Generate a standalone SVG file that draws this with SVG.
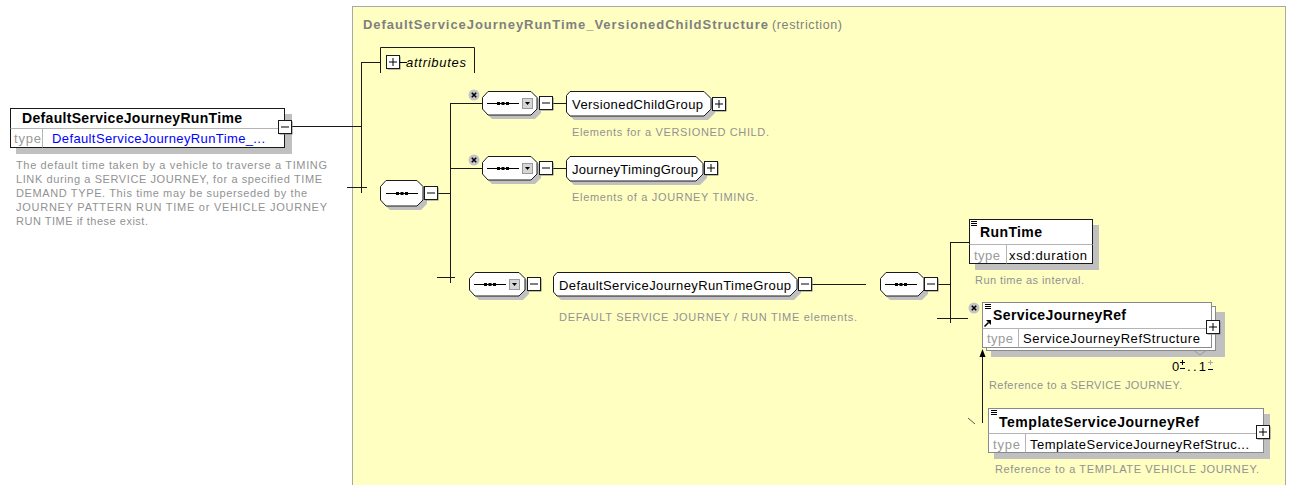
<svg xmlns="http://www.w3.org/2000/svg" width="1294" height="485" viewBox="0 0 1294 485">
<defs>
<style>
.ln{stroke:#1a1a1a;stroke-width:1;fill:none}
.sh{fill:#c0c0c0}
.box{fill:#fff;stroke:#1a1a1a;stroke-width:1}
.obox{fill:#fff;stroke:#8a8a8a;stroke-width:1}
.dv{stroke:#b4b4b4;stroke-width:1}
.comp{fill:#fff;stroke:#1a1a1a;stroke-width:1}
.f{font-family:"Liberation Sans",Arial,sans-serif}
.nm{font-size:13px;fill:#000}
.bn{font-size:14px;font-weight:bold;fill:#000}
.ty{font-size:13px;fill:#9a9a9a}
.ds{font-size:11px;fill:#929292}
</style>
<g id="bm"><rect x="1.5" y="1.5" width="13" height="13" fill="#7a7a7a"/><rect x="0.5" y="0.5" width="13" height="13" fill="#fff" stroke="#1a1a1a"/><line x1="3" y1="7" x2="11" y2="7" stroke="#000"/></g>
<g id="bp"><rect x="1.5" y="1.5" width="13" height="13" fill="#7a7a7a"/><rect x="0.5" y="0.5" width="13" height="13" fill="#fff" stroke="#1a1a1a"/><line x1="3" y1="7" x2="11" y2="7" stroke="#000"/><line x1="7" y1="3" x2="7" y2="11" stroke="#000"/></g>
<g id="dots"><line x1="0" y1="0" x2="32" y2="0" stroke="#000"/><rect x="10" y="-1.5" width="3" height="3" fill="#000"/><rect x="14.5" y="-1.5" width="3" height="3" fill="#000"/><rect x="19" y="-1.5" width="3" height="3" fill="#000"/></g>
<g id="dd"><rect x="0.5" y="0.5" width="10" height="10" fill="#d6d6d6" stroke="#9a9a9a"/><path d="M3,4 H8 L5.5,7 Z" fill="#000"/></g>
<g id="xb"><circle cx="0" cy="0" r="5.5" fill="#c4c4c4"/><path d="M-2.2,-2.2 L2.2,2.2 M2.2,-2.2 L-2.2,2.2" stroke="#000" stroke-width="1.6"/></g>
<g id="mi"><path d="M0,0.5 H6 M0,2.5 H6 M0,4.5 H6" stroke="#000" stroke-width="1"/></g>
</defs>

<g id="container">
<rect x="352.5" y="6.5" width="933" height="490" fill="#FFFFC2" stroke="#a8a8a8" stroke-width="1"/>
<text class="f" x="363" y="29" font-size="13" font-weight="bold" fill="#808080" textLength="405" lengthAdjust="spacing">DefaultServiceJourneyRunTime_VersionedChildStructure</text>
<text class="f" x="772" y="29" font-size="12.5" fill="#808080" textLength="70" lengthAdjust="spacing">(restriction)</text>
</g>

<g id="connectors" class="ln">
<line x1="292" y1="126.5" x2="361.5" y2="126.5"/>
<line x1="361.5" y1="62" x2="361.5" y2="193"/>
<line x1="361.5" y1="62.5" x2="380" y2="62.5"/>
<line x1="347" y1="187.5" x2="367" y2="187.5"/>
<line x1="438" y1="193.5" x2="450.5" y2="193.5"/>
<line x1="450.5" y1="103" x2="450.5" y2="283"/>
<line x1="437" y1="277.5" x2="455" y2="277.5"/>
<line x1="450.5" y1="103.5" x2="482" y2="103.5"/>
<line x1="450.5" y1="168.5" x2="482" y2="168.5"/>
<line x1="552" y1="103.5" x2="566" y2="103.5"/>
<line x1="552" y1="168.5" x2="566" y2="168.5"/>
<line x1="811" y1="284.5" x2="866" y2="284.5"/>
<line x1="938" y1="284.5" x2="950.5" y2="284.5"/>
<line x1="950.5" y1="242" x2="950.5" y2="323"/>
<line x1="950.5" y1="242.5" x2="969" y2="242.5"/>
<line x1="937" y1="318.5" x2="968" y2="318.5"/>
<line x1="982.5" y1="423" x2="982.5" y2="356"/>
<line x1="968" y1="418" x2="975" y2="424" stroke="#555"/>
<path d="M982.5,349 L979.5,357 L985.5,357 Z" fill="#000" stroke="none"/>
</g>

<g id="node-DefaultServiceJourneyRunTime">
<rect x="16" y="114" width="276" height="40" class="sh"/>
<rect x="10.5" y="108.5" width="274" height="39" class="box"/>
<line x1="10.5" y1="128.5" x2="284.5" y2="128.5" class="dv"/>
<line x1="42.5" y1="128.5" x2="42.5" y2="147.5" class="dv"/>
<text class="f bn" x="22" y="123" textLength="220" lengthAdjust="spacing">DefaultServiceJourneyRunTime</text>
<text class="f ty" x="14" y="142.5" textLength="27" lengthAdjust="spacing">type</text>
<text class="f" x="52" y="142.5" font-size="13" fill="#0000ff" textLength="213" lengthAdjust="spacing">DefaultServiceJourneyRunTime_...</text>
<use href="#bm" x="278" y="120"/>
<text class="f ds" x="16" y="168.5" textLength="311" lengthAdjust="spacing">The default time taken by a vehicle to traverse a TIMING</text>
<text class="f ds" x="16" y="182.5" textLength="306" lengthAdjust="spacing">LINK during a SERVICE JOURNEY, for a specified TIME</text>
<text class="f ds" x="16" y="196.5" textLength="291" lengthAdjust="spacing">DEMAND TYPE. This time may be superseded by the</text>
<text class="f ds" x="16" y="210.5" textLength="311" lengthAdjust="spacing">JOURNEY PATTERN RUN TIME or VEHICLE JOURNEY</text>
<text class="f ds" x="16" y="224.5" textLength="132" lengthAdjust="spacing">RUN TIME if these exist.</text>
</g>

<g id="node-attributes">
<path d="M380.5,73 V47.5 H474.5 V73" class="ln"/>
<use href="#bp" x="386" y="55"/>
<line x1="400" y1="62.5" x2="407" y2="62.5" stroke="#000"/>
<text class="f" x="406" y="67" font-size="13" font-style="italic" fill="#000" textLength="60" lengthAdjust="spacing">attributes</text>
</g>

<g id="node-sequence-main">
<path d="M390,184 H421 L427,190 V204 L421,210 H390 L384,204 V190 Z" class="sh"/>
<path d="M386,180.5 H417 L423,186.5 V200 L417,206 H386 L380.5,200 V186.5 Z" class="comp"/>
<use href="#dots" x="386" y="193.5"/>
<use href="#bm" x="424" y="186"/>
</g>

<g id="node-sequence-1">
<path d="M492,95 H535 L541,101 V113 L535,119 H492 L486,113 V101 Z" class="sh"/>
<path d="M488,91.5 H531 L537,97.5 V109 L531,115 H488 L482.5,109 V97.5 Z" class="comp"/>
<use href="#dots" x="487" y="103.5"/>
<use href="#dd" x="522" y="98"/>
<use href="#bm" x="539" y="96"/>
<use href="#xb" x="474" y="95"/>
</g>
<g id="node-VersionedChildGroup">
<path d="M574,95 H708 L715,102 V113 L708,120 H574 L570,116 V99 Z" class="sh"/>
<path d="M570,91.5 H704 L711,98.5 V109 L704,116 H570 L566.5,112 V95.5 Z" class="comp"/>
<text class="f nm" x="572" y="108.5" textLength="131" lengthAdjust="spacing">VersionedChildGroup</text>
<use href="#bp" x="712" y="97"/>
<text class="f ds" x="572" y="135.5" textLength="197" lengthAdjust="spacing">Elements for a VERSIONED CHILD.</text>
</g>

<g id="node-sequence-2">
<path d="M492,160 H535 L541,166 V178 L535,184 H492 L486,178 V166 Z" class="sh"/>
<path d="M488,156.5 H531 L537,162.5 V174 L531,180 H488 L482.5,174 V162.5 Z" class="comp"/>
<use href="#dots" x="487" y="168.5"/>
<use href="#dd" x="522" y="163"/>
<use href="#bm" x="539" y="161"/>
<use href="#xb" x="474" y="160"/>
</g>
<g id="node-JourneyTimingGroup">
<path d="M574,160 H700 L707,167 V178 L700,185 H574 L570,181 V164 Z" class="sh"/>
<path d="M570,156.5 H696 L703,163.5 V174 L696,181 H570 L566.5,177 V160.5 Z" class="comp"/>
<text class="f nm" x="572" y="173.5" textLength="126" lengthAdjust="spacing">JourneyTimingGroup</text>
<use href="#bp" x="704" y="161"/>
<text class="f ds" x="572" y="200.5" textLength="186" lengthAdjust="spacing">Elements of a JOURNEY TIMING.</text>
</g>

<g id="node-sequence-3">
<path d="M479,276 H523 L529,282 V294 L523,300 H479 L473,294 V282 Z" class="sh"/>
<path d="M475,272.5 H519 L525,278.5 V290 L519,296 H475 L469.5,290 V278.5 Z" class="comp"/>
<use href="#dots" x="474" y="284.5"/>
<use href="#dd" x="509" y="279"/>
<use href="#bm" x="527" y="277"/>
</g>
<g id="node-DefaultServiceJourneyRunTimeGroup">
<path d="M561,276 H794 L801,283 V293 L794,300 H561 L557,296 V280 Z" class="sh"/>
<path d="M557,272.5 H790 L797,279.5 V289 L790,296 H557 L553.5,292 V276.5 Z" class="comp"/>
<text class="f nm" x="559" y="289.5" textLength="232" lengthAdjust="spacing">DefaultServiceJourneyRunTimeGroup</text>
<use href="#bm" x="798" y="277"/>
<text class="f ds" x="559" y="320.5" textLength="298" lengthAdjust="spacing">DEFAULT SERVICE JOURNEY / RUN TIME elements.</text>
</g>
<g id="node-sequence-4">
<path d="M890,276 H922 L928,282 V294 L922,300 H890 L884,294 V282 Z" class="sh"/>
<path d="M886,272.5 H918 L924,278.5 V290 L918,296 H886 L880.5,290 V278.5 Z" class="comp"/>
<use href="#dots" x="885" y="284.5"/>
<use href="#bm" x="924" y="277"/>
</g>

<g id="node-RunTime">
<rect x="975" y="225" width="124" height="45" class="sh"/>
<rect x="969.5" y="219.5" width="123" height="44" class="box"/>
<line x1="969.5" y1="244.5" x2="1092.5" y2="244.5" class="dv"/>
<line x1="1006.5" y1="244.5" x2="1006.5" y2="263.5" class="dv"/>
<use href="#mi" x="971" y="221"/>
<text class="f bn" x="980" y="237" textLength="62" lengthAdjust="spacing">RunTime</text>
<text class="f ty" x="974" y="259.5" textLength="26" lengthAdjust="spacing">type</text>
<text class="f nm" x="1009" y="259.5" textLength="78" lengthAdjust="spacing">xsd:duration</text>
<text class="f ds" x="975" y="283.5" textLength="109" lengthAdjust="spacing">Run time as interval.</text>
</g>

<g id="node-ServiceJourneyRef">
<rect x="991" y="312" width="234" height="45" class="sh"/>
<rect x="986.5" y="306.5" width="229" height="44" class="obox"/>
<polyline points="1194,350.5 1200,355 1206,350.5" fill="none" stroke="#9a9a9a"/>
<rect x="982.5" y="302.5" width="229" height="45" class="obox"/>
<line x1="982.5" y1="328.5" x2="1211.5" y2="328.5" class="dv"/>
<line x1="1018.5" y1="328.5" x2="1018.5" y2="347.5" class="dv"/>
<use href="#mi" x="985" y="304"/>
<path d="M984.5,326.5 L988.5,322.5" stroke="#000" stroke-width="1.6"/>
<path d="M986,320 H991 V325 Z" fill="#000"/>
<text class="f bn" x="993" y="320" textLength="133" lengthAdjust="spacing">ServiceJourneyRef</text>
<text class="f ty" x="987" y="343" textLength="26" lengthAdjust="spacing">type</text>
<text class="f nm" x="1023" y="343" textLength="177" lengthAdjust="spacing">ServiceJourneyRefStructure</text>
<use href="#bp" x="1206" y="320"/>
<use href="#xb" x="974" y="308"/>
<text class="f nm" x="1172" y="371">0</text>
<path d="M1180,362.5 H1185 M1182.5,360 V365 M1180,368.5 H1185" stroke="#000" stroke-width="1"/>
<text class="f nm" x="1187" y="371" textLength="19" lengthAdjust="spacing">..1</text>
<path d="M1208,362.5 H1213 M1210.5,360 V365" stroke="#aaa" stroke-width="1"/>
<path d="M1208,369.5 H1213" stroke="#000" stroke-width="1"/>
<text class="f ds" x="989" y="389" textLength="193" lengthAdjust="spacing">Reference to a SERVICE JOURNEY.</text>
</g>

<g id="node-TemplateServiceJourneyRef">
<rect x="994" y="414" width="276" height="45" class="sh"/>
<rect x="988.5" y="408.5" width="275" height="44" class="obox"/>
<line x1="988.5" y1="433.5" x2="1263.5" y2="433.5" class="dv"/>
<line x1="1025.5" y1="433.5" x2="1025.5" y2="452.5" class="dv"/>
<use href="#mi" x="991" y="410"/>
<text class="f bn" x="999" y="427" textLength="200" lengthAdjust="spacing">TemplateServiceJourneyRef</text>
<text class="f ty" x="993" y="448.5" textLength="27" lengthAdjust="spacing">type</text>
<text class="f nm" x="1030" y="448.5" textLength="219" lengthAdjust="spacing">TemplateServiceJourneyRefStruc...</text>
<use href="#bp" x="1256" y="425"/>
<text class="f ds" x="995" y="472.5" textLength="264" lengthAdjust="spacing">Reference to a TEMPLATE VEHICLE JOURNEY.</text>
</g>
</svg>
